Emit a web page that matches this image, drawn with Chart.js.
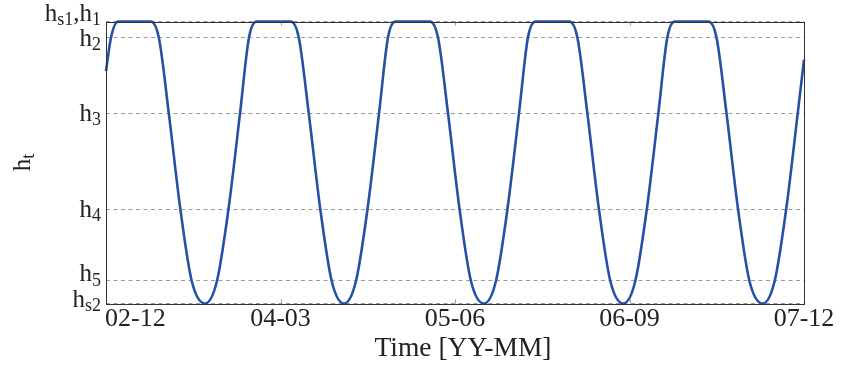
<!DOCTYPE html>
<html>
<head>
<meta charset="utf-8">
<script src="https://cdn.jsdelivr.net/npm/chart.js@4"></script>
<style>body{margin:0;padding:0;background:#fff}</style>
</head>
<body>
<canvas id="canvas" width="842" height="368"></canvas>
<script>
// time axis in months since 2002-12
const months = [0, 0.43, 1.03, 3.85, 4.54, 5.40, 6.39, 7.37, 8.51, 9.54, 10.53, 11.52, 12.29, 12.94,
    15.88, 16.57, 17.43, 18.42, 19.40, 20.46, 21.49, 22.48, 23.47, 24.24, 24.89,
    27.85, 28.54, 29.40, 30.39, 31.37, 32.49, 33.52, 34.51, 35.50, 36.27, 36.92,
    39.83, 40.52, 41.38, 42.37, 43.35, 44.47, 45.50, 46.49, 47.48, 48.25, 48.90,
    51.79, 52.48, 53.34, 54.33, 55.31, 56.45, 57.48, 58.47, 59.46, 60];
// h_t, normalised so that h_s2 = 0 and h_s1 = h_1 = 1
const level = [0.824, 0.943, 1, 1, 0.943, 0.674, 0.335, 0.08, 0, 0.08, 0.335, 0.674, 0.943, 1,
    1, 0.943, 0.674, 0.335, 0.08, 0, 0.08, 0.335, 0.674, 0.943, 1,
    1, 0.943, 0.674, 0.335, 0.08, 0, 0.08, 0.335, 0.674, 0.943, 1,
    1, 0.943, 0.674, 0.335, 0.08, 0, 0.08, 0.335, 0.674, 0.943, 1,
    1, 0.943, 0.674, 0.335, 0.08, 0, 0.08, 0.335, 0.674, 0.865];
const xTickValues = [0, 15, 30, 45, 60];
const xTickLabels = ['02-12', '04-03', '05-06', '06-09', '07-12'];
const yTickValues = [0, 0.080, 0.335, 0.674, 0.943, 1];
const yTickLabels = ['h_{s2}', 'h_{5}', 'h_{4}', 'h_{3}', 'h_{2}', 'h_{s1},h_{1}'];
const xTitle = 'Time [YY-MM]';
const yTitle = 'h_{t}';

const serif = '"Liberation Serif", "DejaVu Serif", serif';
const ink = '#222';
const yLabelShift = [-4, -7, 0, 0, 1, -8.5];

function drawTex(ctx, str, x, y, size, align) {
    let runs = [], re = /_\{([^}]*)\}|[^_]+/g, m;
    while ((m = re.exec(str))) runs.push(m[1] !== undefined ? {t: m[1], sub: true} : {t: m[0], sub: false});
    let sub = Math.round(size * 0.7), w = 0;
    runs.forEach(r => {
        ctx.font = `${r.sub ? sub : size}px ${serif}`;
        r.w = ctx.measureText(r.t).width;
        w += r.w;
    });
    let cx = align === 'right' ? x - w : align === 'center' ? x - w / 2 : x;
    ctx.textAlign = 'left';
    ctx.textBaseline = 'alphabetic';
    runs.forEach(r => {
        ctx.font = `${r.sub ? sub : size}px ${serif}`;
        ctx.fillText(r.t, cx, r.sub ? y + size * 0.17 : y);
        cx += r.w;
    });
}

const axisText = {
    id: 'axisText',
    afterDatasetsDraw(chart) {
        let {ctx, chartArea: a, scales} = chart;
        ctx.save();
        // small tick marks inside the box
        ctx.strokeStyle = '#999';
        ctx.lineWidth = 1;
        ctx.beginPath();
        xTickValues.forEach(v => {
            let px = Math.round(scales.x.getPixelForValue(v)) + 0.5;
            ctx.moveTo(px, a.bottom); ctx.lineTo(px, a.bottom - 4);
            ctx.moveTo(px, a.top); ctx.lineTo(px, a.top + 4);
        });
        ctx.stroke();
        ctx.strokeStyle = '#333';
        ctx.strokeRect(Math.round(a.left) + 0.5, Math.round(a.top) + 0.5,
            Math.round(a.right - a.left), Math.round(a.bottom - a.top));
        ctx.restore();
    },
    afterDraw(chart) {
        let {ctx, chartArea: a, scales} = chart;
        ctx.save();
        ctx.fillStyle = ink;
        xTickLabels.forEach((t, i) => {
            let px = scales.x.getPixelForValue(xTickValues[i]);
            drawTex(ctx, t, i === 0 ? px - 1 : px, a.bottom + 22.5, 26, i === 0 ? 'left' : 'center');
        });
        yTickLabels.forEach((t, i) => {
            let py = scales.y.getPixelForValue(yTickValues[i]);
            drawTex(ctx, t, a.left - 5, py + 7.5 + yLabelShift[i], 25, 'right');
        });
        drawTex(ctx, xTitle, (a.left + a.right) / 2 + 8, 356, 27.5, 'center');
        ctx.translate(30, (a.top + a.bottom) / 2);
        ctx.rotate(-Math.PI / 2);
        drawTex(ctx, yTitle, 0, 0, 25, 'center');
        ctx.restore();
    }
};

new Chart(document.getElementById('canvas').getContext('2d'), {
    type: 'line',
    data: {
        datasets: [{
            data: months.map((m, i) => ({x: m, y: level[i]})),
            borderColor: '#2451a6',
            borderWidth: 2.6,
            pointRadius: 0,
            cubicInterpolationMode: 'monotone',
            fill: false,
            clip: false
        }]
    },
    options: {
        responsive: false,
        animation: false,
        devicePixelRatio: 1,
        layout: {padding: {top: 21.5, right: 38, left: 0, bottom: 0}},
        plugins: {legend: {display: false}, tooltip: {enabled: false}},
        scales: {
            x: {
                type: 'linear', min: 0, max: 60,
                afterBuildTicks: s => { s.ticks = xTickValues.map(v => ({value: v})); },
                afterFit: s => { s.height = 64.5; },
                ticks: {display: false},
                grid: {display: false},
                border: {display: false}
            },
            y: {
                type: 'linear', min: 0, max: 1,
                afterBuildTicks: s => { s.ticks = yTickValues.map(v => ({value: v})); },
                afterFit: s => { s.width = 106; },
                ticks: {display: false},
                grid: {color: '#9a9a9a', lineWidth: 1, drawTicks: false},
                border: {display: false, dash: [4, 3.5]}
            }
        }
    },
    plugins: [axisText]
});
</script>
</body>
</html>
